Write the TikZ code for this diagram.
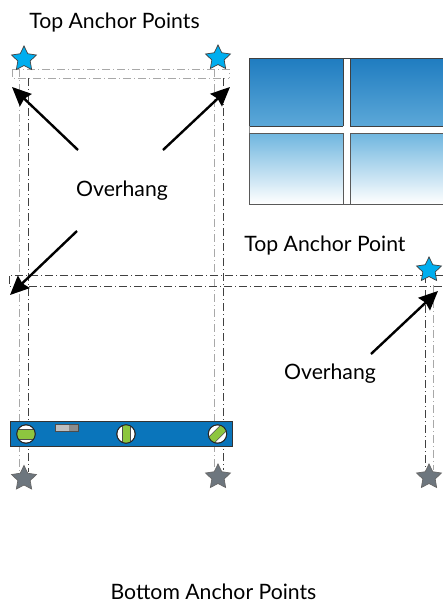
\documentclass[tikz,border=0pt]{standalone}
\usepackage{fontspec}
\setmainfont{Lato}
\usetikzlibrary{shapes.geometric,arrows.meta}
\definecolor{starblue}{HTML}{00AEEF}
\definecolor{stargray}{HTML}{6D767E}
\definecolor{levelblue}{HTML}{0A75BB}
\definecolor{levelgreen}{HTML}{8DC63F}
\definecolor{skyA}{HTML}{1F7CC0}
\definecolor{skyB}{HTML}{5CA8D8}
\definecolor{skyC}{HTML}{6FB6DF}
\definecolor{guide}{HTML}{A8A8A8}
\tikzset{
  label text/.style={font=\fontsize{21.2}{25}\selectfont,text=black,inner sep=0pt},
  anchorstar/.style={star,star points=5,star point ratio=2.0,minimum size=26pt,inner sep=0pt,draw=black!75,line width=0.7pt},
  topstar/.style={anchorstar,fill=starblue},
  botstar/.style={anchorstar,fill=stargray,draw=black!60},
  guideA/.style={dash pattern=on 8pt off 3pt on 1pt off 3pt,draw=guide,line width=0.9pt},
  guideB/.style={dash pattern=on 8pt off 3pt on 1pt off 3pt,draw=black!75,line width=0.8pt},
  callout/.style={draw=black,line width=2.4pt,-{Stealth[length=19pt,width=17pt,inset=2pt]}},
  pane/.style={draw=black!75,line width=0.9pt},
  vial/.style={circle,draw=black!85,fill=white,line width=0.8pt,minimum size=18.5pt,inner sep=0pt},
}
\begin{document}
\begin{tikzpicture}[x=1pt,y=-1pt]
\useasboundingbox (0,0) rectangle (443,603);
% window
\shade[top color=skyA,bottom color=skyB] (249,58) rectangle (343,126);
\shade[top color=skyA,bottom color=skyB] (350,58) rectangle (443,126);
\shade[top color=skyC,bottom color=white] (249,133) rectangle (343,204);
\shade[top color=skyC,bottom color=white] (350,133) rectangle (443,204);
\draw[pane] (343,126) -- (249,126) -- (249,58) -- (443,58);
\draw[pane] (343,58) -- (343,126);
\draw[pane] (443,126) -- (350,126) -- (350,58);
\draw[pane,draw=black!65] (343,133) -- (249,133) -- (249,204) -- (443,204);
\draw[pane,draw=black!65] (343,133) -- (343,204);
\draw[pane,draw=black!65] (443,133) -- (350,133) -- (350,204);
\draw[draw=black!45,line width=0.6pt] (249,126) -- (249,133);
% guides
\coordinate (g1t) at (19,69); \coordinate (g1b) at (19,472);
\coordinate (g2t) at (28,78); \coordinate (g2b) at (28,472);
\coordinate (g3t) at (214,69); \coordinate (g3b) at (214,470);
\coordinate (g4t) at (223,78); \coordinate (g4b) at (223,470);
\coordinate (g5t) at (425,275); \coordinate (g5b) at (425,470);
\coordinate (g6t) at (433,285); \coordinate (g6b) at (433,470);
\draw[guideA] (12,69) -- (229,69) -- (229,78);
\draw[guideA] (12,69) -- (12,78) -- (229,78);
\draw[guideA] (g1t) -- (g1b);
\draw[guideB] (g2t) -- (g2b);
\draw[guideA] (g3t) -- (g3b);
\draw[guideB] (g4t) -- (g4b);
\draw[guideB] (g5t) -- (g5b);
\draw[guideA] (g6t) -- (g6b);
\draw[guideB] (443,275) -- (9,275) -- (9,286) -- (443,286);
% stars
\node[topstar] (t1) at (24,59) {};
\node[topstar] (t2) at (218,58) {};
\node[topstar] (t3) at (429,270) {};
\node[botstar] (b1) at (24,478.5) {};
\node[botstar] (b2) at (218,477) {};
\node[botstar] (b3) at (429,477) {};
% level
\fill[levelblue,draw=black!80,line width=0.6pt] (10.5,421.5) rectangle (232.5,446);
\fill[black!25,draw=black!70,line width=0.8pt] (55.5,424.5) rectangle (78,431);
\fill[black!45] (69,425) rectangle (77.5,430.5);
\node[vial] (v1) at (26,434) {};
\node[vial] (v2) at (126,434) {};
\node[vial] (v3) at (217.5,434) {};
\begin{scope}
\clip (v1.center) circle (9pt);
\fill[levelgreen,draw=black!70,line width=0.5pt] (16,429) rectangle (36,439);
\end{scope}
\begin{scope}
\clip (v2.center) circle (9pt);
\fill[levelgreen,draw=black!70,line width=0.5pt] (122,424) rectangle (130,444);
\end{scope}
\begin{scope}
\clip (v3.center) circle (9pt);
\fill[levelgreen,draw=black!70,line width=0.5pt,rotate around={-45:(v3.center)}] (213.5,422) rectangle (221.5,446);
\end{scope}
\draw[black!85,line width=0.8pt] (v1.center) circle (9.2pt) (v2.center) circle (9.2pt) (v3.center) circle (9.2pt);
% callouts
\coordinate (a1s) at (78,150); \coordinate (a1e) at (12,87);
\coordinate (a2s) at (163,150); \coordinate (a2e) at (230,87);
\coordinate (a3s) at (77,231); \coordinate (a3e) at (10,295);
\coordinate (a4s) at (371,354); \coordinate (a4e) at (438,291);
\draw[callout] (a1s) -- (a1e);
\draw[callout] (a2s) -- (a2e);
\draw[callout] (a3s) -- (a3e);
\draw[callout] (a4s) -- (a4e);
% labels
\node[label text] (l1) at (114.5,22.5) {Top Anchor Points};
\node[label text] (l2) at (122,190.5) {Overhang};
\node[label text] (l3) at (325,245.5) {Top Anchor Point};
\node[label text] (l4) at (330,373.5) {Overhang};
\node[label text] (l5) at (213.5,591.5) {Bottom Anchor Points};
\end{tikzpicture}
\end{document}
